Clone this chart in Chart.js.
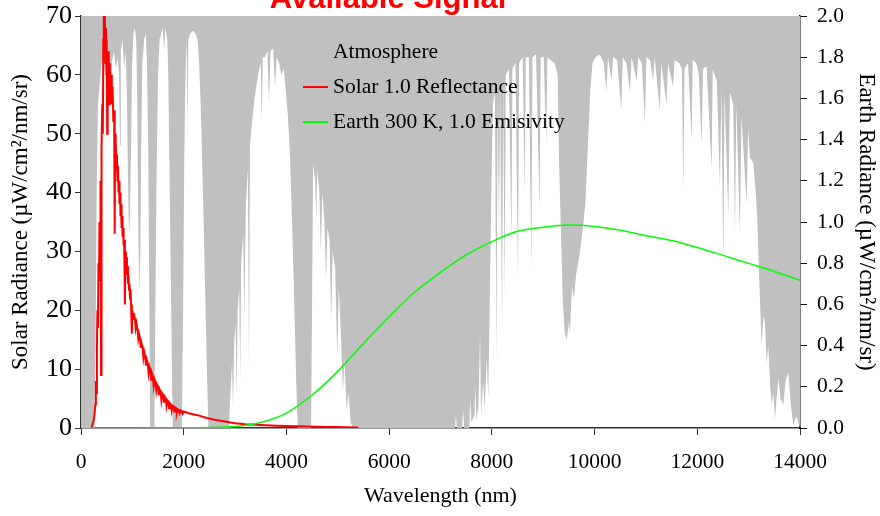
<!DOCTYPE html>
<html>
<head>
<meta charset="utf-8">
<script src="https://cdn.jsdelivr.net/npm/chart.js@4.4.0/dist/chart.umd.min.js"></script>
<style>
  html, body { margin: 0; padding: 0; background: #fff; }
  #wrap { width: 880px; height: 516px; }
</style>
</head>
<body>
<div id="wrap"><canvas id="signalChart" width="880" height="516"></canvas></div>
<script>
// Atmosphere: lower edge of the grey absorption area, in left-axis units
const atmWavelength = [
  0, 260, 285, 305, 330, 360, 390, 420, 450, 480, 520, 560, 585, 600, 640, 680, 710, 740, 760, 775,
  810, 840, 870, 895, 915, 935, 955, 975, 995, 1020, 1050, 1075, 1095, 1115, 1135, 1155, 1175, 1195, 1230, 1260,
  1285, 1310, 1335, 1345, 1430, 1445, 1470, 1500, 1530, 1560, 1590, 1620, 1640, 1680, 1700, 1725, 1760, 1785, 1965, 1990,
  2010, 2035, 2060, 2075, 2090, 2130, 2180, 2230, 2270, 2300, 2330, 2380, 2430, 2480, 2880, 2910, 2940, 2960, 2980, 3010,
  3030, 3050, 3080, 3100, 3120, 3160, 3180, 3210, 3250, 3270, 3290, 3330, 3380, 3430, 3470, 3500, 3520, 3540, 3580, 3630,
  3660, 3690, 3740, 3780, 3810, 3860, 3900, 3950, 3990, 4030, 4070, 4110, 4150, 4190, 4220, 4480, 4500, 4520, 4560, 4580,
  4600, 4640, 4670, 4700, 4740, 4770, 4800, 4840, 4870, 4900, 4950, 4990, 5020, 5060, 5100, 5130, 5170, 5210, 5250, 5300,
  7280, 7300, 7320, 7420, 7440, 7460, 7560, 7580, 7600, 7660, 7680, 7700, 7740, 7770, 7790, 7830, 7860, 7900, 7930, 7960,
  7990, 8020, 8060, 8090, 8110, 8140, 8160, 8200, 8220, 8250, 8270, 8330, 8380, 8400, 8460, 8510, 8530, 8600, 8640, 8660,
  8720, 8770, 8790, 8860, 8930, 8950, 9010, 9060, 9080, 9150, 9220, 9280, 9310, 9340, 9380, 9420, 9460, 9500, 9520, 9560,
  9600, 9640, 9700, 9760, 9820, 9870, 9920, 9960, 10020, 10100, 10180, 10230, 10260, 10330, 10360, 10440, 10520, 10550, 10620, 10690,
  10720, 10820, 10850, 10920, 10980, 11010, 11080, 11140, 11170, 11270, 11300, 11400, 11430, 11530, 11560, 11650, 11700, 11728, 11750, 11820,
  11890, 11910, 11980, 12030, 12085, 12110, 12180, 12280, 12300, 12380, 12441, 12470, 12506, 12530, 12604, 12636, 12700, 12734, 12760, 12831,
  12860, 12960, 12990, 13026, 13090, 13140, 13170, 13207, 13252, 13290, 13317, 13350, 13382, 13420, 13447, 13480, 13512, 13545, 13577, 13620,
  13675, 13720, 13772, 13820, 13870, 13930, 14000
];
const atmLevel = [
  0, 0, 15, 40, 55, 58, 61, 63, 60, 62, 61, 63, 56, 62, 64, 61, 63, 60, 48, 64,
  66, 61, 64, 56, 42, 33, 36, 48, 62, 67, 68, 66, 56, 34, 23, 30, 50, 62, 66, 67,
  62, 47, 15, 0, 0, 18, 42, 60, 66, 67, 68, 64, 68, 66, 60, 42, 18, 0, 0, 22,
  45, 60, 66, 50, 66, 67, 67.5, 67, 66, 62, 55, 38, 18, 0, 0, 6, 11, 3, 14, 18,
  5, 20, 24, 8, 28, 33, 18, 38, 44, 10, 48, 52, 56, 59, 61, 62, 52, 63, 63, 64,
  55, 64, 64.5, 58, 63, 62, 60, 61, 57, 53, 46, 35, 22, 8, 0, 0, 22, 45, 42, 35,
  44, 40, 30, 40, 35, 25, 34, 32, 18, 30, 27, 12, 24, 16, 6, 12, 3, 6, 1, 0,
  0, 2, 0, 0, 3, 0, 0, 5, 1, 2, 7, 1, 4, 16, 2, 8, 3, 12, 5, 22,
  40, 55, 57, 11, 57, 32, 59, 16, 59, 22, 60, 61, 31, 61, 62, 25, 62, 63, 40, 63,
  63, 27, 63, 63.5, 37, 63, 63, 48, 63, 62.5, 62, 60, 45, 35, 22, 16, 15, 18, 16, 24,
  22, 26, 29, 33, 38, 48, 58, 62, 63, 63.5, 62, 57, 63, 59, 63, 62.5, 54, 63, 62, 57,
  63, 59, 63, 62, 52, 63, 62.5, 59, 63, 54, 62, 55, 62, 58, 62.5, 62, 61, 40, 61, 62,
  49, 62.5, 62, 60, 48, 61, 61.5, 44, 61, 59, 41, 58, 27, 57, 36, 57, 55, 33, 55, 33,
  53, 38, 51, 46, 45, 40, 35, 25, 14, 19, 18, 11, 14, 7, 4, 6, 1.5, 5, 8.5, 5,
  4, 8, 9.5, 4, 0.5, 2, 0
];

// Solar 1.0 reflectance, left axis
const solarWavelength = [
  200, 220, 240, 260, 280, 290, 300, 310, 320, 330, 340, 350, 360, 370, 380, 390, 395, 405, 415, 425,
  435, 445, 455, 465, 475, 485, 495, 500, 510, 520, 530, 540, 550, 560, 575, 590, 600, 615, 630, 645,
  656, 665, 672, 680, 690, 700, 710, 720, 730, 740, 750, 760, 770, 780, 790, 800, 810, 820, 830, 840,
  855, 865, 875, 885, 895, 905, 915, 925, 935, 945, 955, 965, 975, 990,
  1000, 1015, 1030, 1050, 1065, 1080, 1100, 1115, 1130, 1150, 1165, 1180, 1200, 1215, 1230, 1250, 1265, 1280, 1300, 1315,
  1330, 1350, 1365, 1380, 1400, 1415, 1430, 1450, 1465, 1480, 1500, 1515, 1530, 1550, 1565, 1580, 1600, 1615, 1630, 1650,
  1665, 1680, 1700, 1715, 1730, 1750, 1765, 1780, 1800, 1815, 1830, 1850, 1865, 1880, 1900, 1920, 1940, 1960, 1980, 2000,
  2100, 2200, 2300, 2450, 2600, 2800, 3000, 3200, 3400, 3600, 3800, 4000, 4200, 4400, 4600, 4800, 5000, 5200, 5400
];
const solarRadiance = [
  0, 0.5, 1, 2, 4, 8, 6, 14, 20, 17, 28, 25, 35, 33, 42, 9, 40, 48, 55, 50,
  66, 72, 64, 70, 62, 68, 60, 66, 50, 63, 58, 64, 55, 62, 56, 60, 55, 58, 52, 54,
  33, 50, 46, 48.5, 44, 46.5, 42, 44.5, 40, 42, 38, 40, 36, 38, 34, 36, 32.5, 34, 31, 32,
  21, 30, 27.5, 29, 26, 27.5, 24.5, 26, 23.5, 24.5, 22, 23.5, 21, 16,
  20, 18.5, 19.5, 18.6, 17, 17.8, 16.8, 15.2, 16, 15.2, 13.6, 14.4, 13.6, 12, 13, 12.2, 10.6, 11.6, 11, 9.4,
  10.4, 9.8, 8.2, 9.3, 8.7, 7.2, 8.3, 7.8, 6.4, 7.4, 7, 5.6, 6.6, 6.2, 4.8, 5.9, 5.6, 4.3, 5.3, 5,
  3.8, 4.7, 4.5, 3.4, 4.2, 4, 3, 3.8, 3.7, 2.8, 3.5, 3.4, 2.6, 3.2, 3.1, 2.5, 3, 2.9, 2.4, 2.8,
  2.5, 2.3, 2.1, 1.7, 1.4, 1.1, 0.8, 0.65, 0.55, 0.45, 0.38, 0.32, 0.28, 0.24, 0.2, 0.17, 0.15, 0.13, 0.1
];

// Earth 300 K, 1.0 emissivity, right axis
const earthWavelength = [
  200, 1000, 2000, 2500, 3000, 3500, 4000, 4500, 5000, 5500, 6000, 6500, 7000, 7500, 8000, 8500, 9000, 9500, 10000, 10500,
  11000, 11500, 12000, 12500, 13000, 13500, 14000
];
const earthRadiance = [
  0, 0, 0.001, 0.002, 0.007, 0.027, 0.072, 0.16, 0.275, 0.41, 0.54, 0.66, 0.755, 0.84, 0.905, 0.955, 0.975, 0.985, 0.978, 0.96,
  0.933, 0.91, 0.876, 0.838, 0.799, 0.76, 0.717
];

const seriesLabels = ['Atmosphere', 'Solar 1.0 Reflectance', 'Earth 300 K, 1.0 Emisivity'];

const serif = 'Liberation Serif';

function toPoints(xs, ys) {
  return xs.map((x, i) => ({ x: x, y: ys[i] }));
}

// title and legend are drawn inside the plot like the original
const titlePlugin = {
  id: 'topTitle',
  afterDraw(chart) {
    const ctx = chart.ctx;
    ctx.save();
    ctx.font = 'bold 31px "Liberation Sans"';
    ctx.fillStyle = '#ff0000';
    ctx.textAlign = 'center';
    ctx.textBaseline = 'alphabetic';
    ctx.fillText('Available Signal', 388, 8);
    ctx.restore();
  }
};

const legendPlugin = {
  id: 'insideLegend',
  afterDraw(chart) {
    const ctx = chart.ctx;
    ctx.save();
    ctx.font = '21.5px "' + serif + '"';
    ctx.textBaseline = 'alphabetic';
    chart.data.datasets.forEach((ds, i) => {
      const base = 58 + i * 35;
      if (ds.legendLine) {
        ctx.strokeStyle = ds.borderColor;
        ctx.lineWidth = 2;
        ctx.beginPath();
        ctx.moveTo(303, base - 6);
        ctx.lineTo(328, base - 6);
        ctx.stroke();
      }
      ctx.fillStyle = '#000';
      ctx.fillText(ds.label, 333, base);
    });
    ctx.restore();
  }
};

const ctx = document.getElementById('signalChart').getContext('2d');
new Chart(ctx, {
  type: 'line',
  data: {
    datasets: [{
      label: seriesLabels[0],
      data: toPoints(atmWavelength, atmLevel),
      yAxisID: 'y',
      borderWidth: 0,
      borderColor: 'rgba(0,0,0,0)',
      backgroundColor: '#c0c0c0',
      fill: 'end',
      pointRadius: 0,
      order: 3,
      legendLine: false,
    }, {
      label: seriesLabels[1],
      data: toPoints(solarWavelength, solarRadiance),
      yAxisID: 'y',
      borderColor: '#ff0000',
      borderWidth: 2,
      pointRadius: 0,
      fill: false,
      order: 2,
      legendLine: true,
    }, {
      label: seriesLabels[2],
      data: toPoints(earthWavelength, earthRadiance),
      yAxisID: 'y2',
      borderColor: '#00ff00',
      borderWidth: 1.5,
      pointRadius: 0,
      fill: false,
      cubicInterpolationMode: 'monotone',
      order: 1,
      legendLine: true,
    }],
  },
  options: {
    responsive: false,
    animation: false,
    devicePixelRatio: 1,
    layout: { padding: { top: 16, left: 0, right: 0, bottom: 0 } },
    plugins: {
      legend: { display: false },
      tooltip: { enabled: false },
      title: { display: false },
    },
    scales: {
      x: {
        type: 'linear',
        min: 0,
        max: 14000,
        ticks: { stepSize: 2000, color: '#000', padding: 14, font: { family: serif, size: 21.5 }, callback: (v) => String(v) },
        grid: { drawOnChartArea: false, tickLength: 7, color: '#333' },
        border: { color: '#333', width: 1.5 },
        title: { display: true, text: 'Wavelength (nm)', color: '#000', font: { family: serif, size: 22 }, padding: { top: 0, bottom: 7 } },
        afterFit: (scale) => { scale.height = 88; },
      },
      y: {
        position: 'left',
        min: 0,
        max: 70,
        ticks: { stepSize: 10, color: '#000', padding: 3, font: { family: serif, size: 26, lineHeight: 0.5 } },
        grid: { drawOnChartArea: false, tickLength: 6, color: '#333' },
        border: { color: '#333', width: 1.5 },
        title: { display: true, text: 'Solar Radiance (µW/cm²/nm/sr)', color: '#000', font: { family: serif, size: 23 }, padding: { top: 7, bottom: 0 } },
        afterFit: (scale) => { scale.width = 81; },
      },
      y2: {
        position: 'right',
        min: 0,
        max: 2,
        ticks: { stepSize: 0.2, color: '#000', padding: 10, font: { family: serif, size: 21.5, lineHeight: 0.4 }, callback: (v) => Number(v).toFixed(1) },
        grid: { drawOnChartArea: false, tickLength: 7, color: '#000' },
        border: { color: '#000', width: 1.5 },
        title: { display: true, text: 'Earth Radiance (µW/cm²/nm/sr)', color: '#000', font: { family: serif, size: 23 }, padding: { top: 0, bottom: 0 } },
        afterFit: (scale) => { scale.width = 80; },
      },
    },
  },
  plugins: [titlePlugin, legendPlugin],
});
</script>
</body>
</html>
